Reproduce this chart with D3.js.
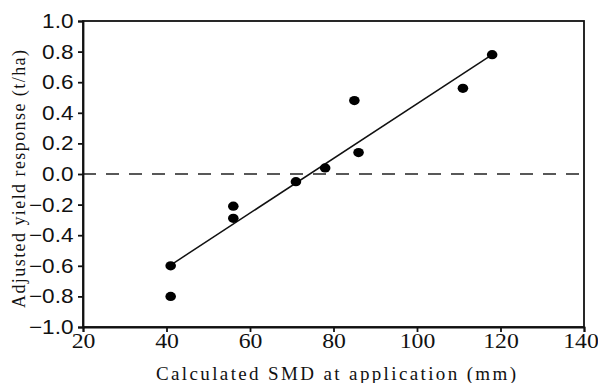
<!DOCTYPE html>
<html>
<head>
  <meta charset="utf-8">
  <title>Yield response vs SMD</title>
  <script src="https://d3js.org/d3.v7.min.js"></script>
</head>
<body style="margin:0;padding:0;background:white;">
<div id="chart"></div>
<script>
  // data
  var smd = [41, 41, 56, 56, 71, 78, 85, 86, 111, 118];
  var response = [-0.60, -0.80, -0.21, -0.29, -0.05, 0.04, 0.48, 0.14, 0.56, 0.78];
  // fitted line end points
  var fitX = [41, 118];
  var fitY = [-0.595, 0.78];
  var xTicks = [20, 40, 60, 80, 100, 120, 140];
  var yTicks = [-1.0, -0.8, -0.6, -0.4, -0.2, 0.0, 0.2, 0.4, 0.6, 0.8, 1.0];

  var SANS = "Liberation Sans";
  var SERIF = "Liberation Serif";
  var stretch = 1.13; // the original figure is a bit wider than tall

  var W = 598, H = 383;
  var m = {left: 83, right: 14, top: 21, bottom: 56};

  var svg = d3.select("#chart").append("svg")
      .attr("width", W).attr("height", H);

  var x = d3.scaleLinear().domain([20, 140]).range([m.left, W - m.right]);
  var y = d3.scaleLinear().domain([-1, 1]).range([H - m.bottom, m.top]);

  // frame
  svg.append("rect")
      .attr("x", x(20)).attr("y", y(1))
      .attr("width", x(140) - x(20)).attr("height", y(-1) - y(1))
      .attr("fill", "none").attr("stroke", "#111").attr("stroke-width", 1.8);

  // zero line
  svg.append("line")
      .attr("x1", x(20)).attr("x2", x(140))
      .attr("y1", y(0)).attr("y2", y(0))
      .attr("stroke", "#222").attr("stroke-width", 1.3)
      .attr("stroke-dasharray", "13,10");

  var xAxis = svg.append("g")
      .attr("transform", "translate(0," + y(-1) + ")")
      .call(d3.axisBottom(x).tickValues(xTicks).tickSize(5).tickPadding(1).tickFormat(d3.format("d")));
  xAxis.selectAll("text")
      .style("font-family", SERIF).style("font-size", "21px")
      .attr("transform", "scale(" + stretch + ",1)")
      .attr("x", function(d) { return d === 140 ? -3.5 / stretch : 0; });

  var yAxis = svg.append("g")
      .attr("transform", "translate(" + x(20) + ",0)")
      .call(d3.axisLeft(y).tickValues(yTicks).tickSize(5).tickPadding(4).tickFormat(d3.format(".1f")));
  yAxis.selectAll("text")
      .style("font-family", SANS).style("font-size", "20px")
      .attr("transform", "scale(" + stretch + ",1)")
      .attr("x", -9.5 / stretch);

  [xAxis, yAxis].forEach(function(g) {
    g.select(".domain").attr("stroke", "#111").attr("stroke-width", 1.8);
    g.selectAll(".tick line").attr("stroke", "#111").attr("stroke-width", 1.8);
    g.selectAll("text").attr("fill", "#111");
  });

  // regression line
  svg.append("line")
      .attr("x1", x(fitX[0])).attr("y1", y(fitY[0]))
      .attr("x2", x(fitX[1])).attr("y2", y(fitY[1]))
      .attr("stroke", "#111").attr("stroke-width", 1.5);

  // points
  svg.selectAll(".pt")
      .data(smd)
    .enter().append("ellipse")
      .attr("class", "pt")
      .attr("cx", function(d) { return x(d); })
      .attr("cy", function(d, i) { return y(response[i]); })
      .attr("rx", 5.3).attr("ry", 4.6)
      .attr("fill", "#000");

  // axis titles
  svg.append("text")
      .style("font-family", SERIF).style("font-size", "19px")
      .attr("fill", "#111")
      .attr("x", 336)
      .attr("y", 380)
      .attr("text-anchor", "middle")
      .attr("textLength", 360).attr("lengthAdjust", "spacing")
      .text("Calculated SMD at application (mm)");

  svg.append("text")
      .style("font-family", SERIF).style("font-size", "18px")
      .attr("fill", "#111")
      .attr("transform", "translate(25,179) rotate(-90)")
      .attr("text-anchor", "middle")
      .attr("textLength", 258).attr("lengthAdjust", "spacing")
      .text("Adjusted yield response (t/ha)");
</script>
</body>
</html>
